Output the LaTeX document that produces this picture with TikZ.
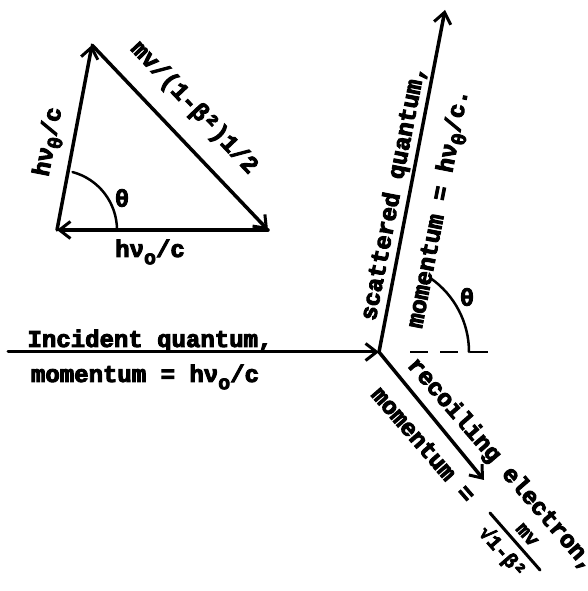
\documentclass[tikz,border=0pt]{standalone}
\usepackage{fontspec}
\usetikzlibrary{arrows.meta}
\newfontfamily\tw{Liberation Mono Bold}[FakeBold=4]
\newcommand{\lo}[1]{\raisebox{-0.3em}{\fontsize{20}{20}\selectfont #1}}
\begin{document}
\begin{tikzpicture}[x=1pt,y=1pt, line cap=round,
  txt/.style={font=\tw\fontsize{24}{24}\selectfont, inner sep=0pt},
  stxt/.style={font=\tw\fontsize{20}{20}\selectfont, inner sep=0pt},
  arr/.style={line width=3.5pt, -{Straight Barb[length=11pt,width=17pt,line width=3pt]}},
  thinln/.style={line width=2.5pt},
]
\useasboundingbox (0,0) rectangle (587,591);
\fill[white] (0,0) rectangle (587,591);
% ---- vector triangle ----
\coordinate (A) at (57,361);
\coordinate (B) at (92,546);
\coordinate (C) at (268,361);
\draw[arr] (A) -- (B);
\draw[arr] (B) -- (C);
\draw[arr] (C) -- (A);
\draw[thinln] (A) ++(60,0) arc (0:75:60);
\node[txt] (thA) at (122,393) {θ};
\node[txt, rotate=79] (labL) at (50,449) {hν\lo{θ}/c};
\node[txt, rotate=-46.5] (labH) at (194,483) {mv/(1-β²)1/2};
\node[txt] (labB) at (150,339) {hν\lo{o}/c};
% ---- collision diagram ----
\coordinate (O) at (379,239);
\coordinate (I) at (8,239);
\coordinate (S) at (445,581);
\coordinate (R) at (484,111);
\coordinate (D1) at (410,239);
\coordinate (D2) at (488,239);
\draw[arr, line width=3pt] (I) -- (O);
\draw[arr] (O) -- (S);
\draw[arr] (O) -- (R);
\draw[thinln, dash pattern=on 18pt off 12pt, line cap=butt] (D1) -- (D2);
\draw[thinln] (O) ++(55:90) arc (55:0:90);
\node[txt] (thB) at (467,294) {θ};
\node[txt, anchor=base] (inc1) at (150,244) {Incident quantum,};
\node[txt, anchor=base] (inc2) at (145,209) {momentum = hν\lo{o}/c};
\node[txt, rotate=79] (sc1) at (394,398) {scattered quantum,};
\node[txt, rotate=79] (sc2) at (440,382) {momentum = hν\lo{θ}/c.};
\node[txt, rotate=-49] (re1) at (501,126) {recoiling electron,};
\node[txt, rotate=-49] (re2) at (423.5,146.5) {momentum =};
\node[stxt, rotate=-49] (num) at (527,56) {mv};
\coordinate (bar1) at (490,78);
\coordinate (bar2) at (540,21);
\draw[line width=3pt] (bar1) -- (bar2);
\node[stxt, rotate=-49] (den) at (502,39) {√1-β²};
\end{tikzpicture}
\end{document}
